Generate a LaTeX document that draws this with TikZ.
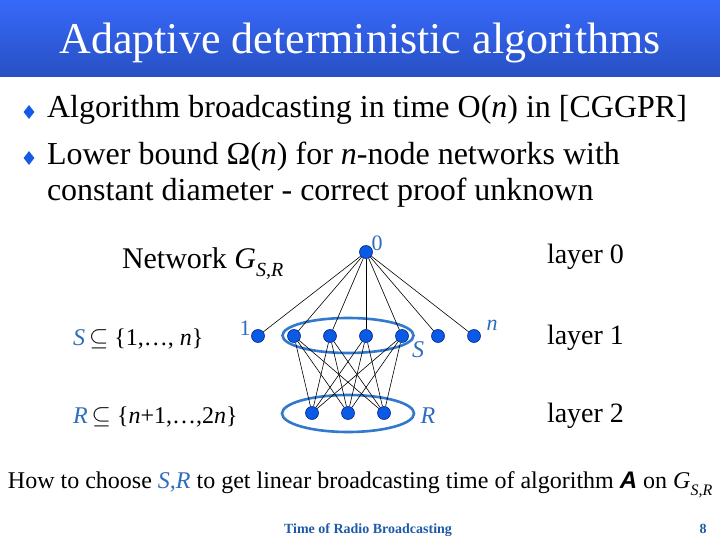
\documentclass[tikz,border=0pt]{standalone}
\usepackage{fontspec}
\setmainfont{Liberation Serif}
\newfontfamily\sansf{Liberation Sans}
\usetikzlibrary{shapes.geometric}
\definecolor{titletop}{RGB}{55,105,250}
\definecolor{titlebot}{RGB}{40,80,195}
\definecolor{nodeblue}{RGB}{10,90,230}
\definecolor{nodeedge}{RGB}{0,40,140}
\definecolor{labblue}{RGB}{45,110,190}
\definecolor{ellblue}{RGB}{50,120,205}
\definecolor{footblue}{RGB}{30,90,170}
\definecolor{bulblue}{RGB}{20,90,230}
\begin{document}
\begin{tikzpicture}[x=1pt,y=-1pt,
  txt/.style={inner sep=0pt, outer sep=0pt, anchor=base west},
  ctxt/.style={inner sep=0pt, outer sep=0pt, anchor=base},
  vtx/.style={circle, fill=nodeblue, draw=nodeedge, line width=0.6pt, minimum size=13pt, inner sep=0pt},
  link/.style={line width=0.6pt, black},
  grp/.style={ellipse, draw=ellblue, line width=2.6pt, inner sep=0pt},
  bul/.style={diamond, fill=bulblue, inner sep=0pt, minimum width=11pt, minimum height=14pt},
  lab/.style={inner sep=0pt, outer sep=0pt, text=labblue, font=\fontsize{22}{26}\selectfont}
]
\useasboundingbox (0,0) rectangle (720,540);
\fill[white] (0,0) rectangle (720,540);
\shade[top color=titletop, bottom color=titlebot] (0,0) rectangle (720,77);
\node[ctxt, text=white, font=\fontsize{44}{50}\selectfont] (title) at (360,54) {Adaptive deterministic algorithms};

% bullets
\node[bul] (b1) at (29,112) {};
\node[txt, font=\fontsize{32}{38}\selectfont] (t1) at (47,118) {Algorithm broadcasting in time O(\textit{n}) in [CGGPR]};
\node[bul] (b2) at (29,158) {};
\node[txt, font=\fontsize{32}{38}\selectfont] (t2) at (47,165) {Lower bound Ω(\textit{n}) for \textit{n}-node networks with};
\node[txt, font=\fontsize{32}{38}\selectfont] (t3) at (47,201) {constant diameter - correct proof unknown};

% network caption
\node[txt, font=\fontsize{30}{36}\selectfont] (net) at (122,268) {Network \textit{G}\raisebox{-0.3em}{\fontsize{20}{20}\selectfont\textit{S,R}}};
\node[txt, font=\fontsize{24}{28}\selectfont] (sdef) at (73,345) {\textcolor{labblue}{\textit{S}}\,$\subseteq$ \{1,…, \textit{n}\}};
\node[txt, font=\fontsize{24}{28}\selectfont] (rdef) at (73,423) {\textcolor{labblue}{\textit{R}}\,$\subseteq$ \{\textit{n}+1,…,2\textit{n}\}};

% layers
\node[txt, font=\fontsize{28}{32}\selectfont] (l0) at (547,263) {layer 0};
\node[txt, font=\fontsize{28}{32}\selectfont] (l1) at (547,344) {layer 1};
\node[txt, font=\fontsize{28}{32}\selectfont] (l2) at (547,422) {layer 2};

% groups
\node[grp, minimum width=131pt, minimum height=35pt] (gS) at (348,335.5) {};
\node[grp, minimum width=132pt, minimum height=37pt] (gR) at (348,413.5) {};

% vertices
\node[vtx] (v0) at (366,252) {};
\foreach \i/\x in {1/258,2/294,3/330,4/366,5/402,6/438,7/474}
  \node[vtx] (a\i) at (\x,336) {};
\foreach \i/\x in {1/312,2/348,3/384}
  \node[vtx] (r\i) at (\x,413) {};

% edges
\foreach \i in {1,...,7} \draw[link] (v0) -- (a\i);
\foreach \i in {2,...,5} \foreach \j in {1,2,3} \draw[link] (a\i) -- (r\j);

% vertex labels
\node[lab] (lab0) at (377,243) {0};
\node[lab] (lab1) at (245,328) {1};
\node[lab] (labn) at (492,325) {\textit{n}};
\node[lab, font=\fontsize{24}{28}\selectfont] (labS) at (418,350) {\textit{S}};
\node[lab, font=\fontsize{24}{28}\selectfont] (labR) at (428,416) {\textit{R}};

% question
\node[txt, font=\fontsize{24}{28}\selectfont] (q) at (8,488) {How to choose \textcolor{labblue}{\textit{S,R}} to get linear broadcasting time of algorithm {\sansf\bfseries\itshape A} on \textit{G}\raisebox{-0.3em}{\fontsize{16}{16}\selectfont\textit{S,R}}};

% footer
\node[ctxt, text=footblue, font=\fontsize{14}{16}\selectfont\bfseries] (foot) at (368,533) {Time of Radio Broadcasting};
\node[ctxt, text=footblue, font=\fontsize{14}{16}\selectfont\bfseries] (page) at (703,533) {8};
\end{tikzpicture}
\end{document}
